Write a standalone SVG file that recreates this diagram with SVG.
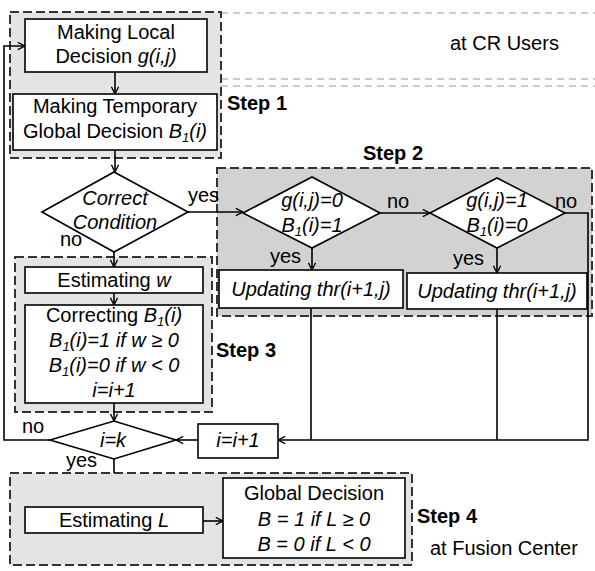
<svg xmlns="http://www.w3.org/2000/svg" width="595" height="571" viewBox="0 0 595 571">
<defs>
<marker id="arr" viewBox="0 0 10 10" refX="9" refY="5" markerWidth="9" markerHeight="9" markerUnits="userSpaceOnUse" orient="auto">
<path d="M1,1 L9,5 L1,9" fill="none" stroke="#000" stroke-width="1.5"/>
</marker>
<style>
.region{fill:#e4e4e4;stroke:#333;stroke-width:2;stroke-dasharray:9 4}
.region2{fill:#d2d2d2;stroke:#333;stroke-width:2;stroke-dasharray:9 4}
.box{fill:#fff;stroke:#000;stroke-width:1.6}
.sep{fill:none;stroke:#999;stroke-width:1;stroke-dasharray:7 5}
.conn path{fill:none;stroke:#000;stroke-width:1.6}
text{font-family:"Liberation Sans",Arial,sans-serif;font-size:20px;fill:#000}
.c{text-anchor:middle}
.i{font-style:italic}
.b{font-weight:bold}
.sub{font-size:13px}
</style>
</defs>
<rect width="595" height="571" fill="#fff"/>

<!-- separators -->
<path class="sep" d="M221,13 H595"/>
<path class="sep" d="M221,79 H595"/>
<path class="sep" d="M221,86 H595"/>

<!-- regions -->
<g id="step1-region">
<rect class="region" x="10" y="12" width="211" height="146"/>
<text class="b" x="227" y="110">Step 1</text>
</g>
<g id="step2-region">
<rect class="region2" x="217" y="168" width="375" height="148"/>
<text class="b" x="363" y="160">Step 2</text>
</g>
<g id="step3-region">
<rect class="region" x="15" y="257" width="197" height="155"/>
<text class="b" x="216" y="357">Step 3</text>
</g>
<g id="step4-region">
<rect class="region" x="10" y="473" width="402" height="92"/>
<text class="b" x="417" y="523">Step 4</text>
</g>
<text x="450" y="50">at CR Users</text>
<text x="430" y="555">at Fusion Center</text>

<!-- connectors -->
<g class="conn" id="connectors">
<path d="M50,440 H4 V46 H25" marker-end="url(#arr)"/>
<path d="M115,72 V94" marker-end="url(#arr)"/>
<path d="M115,150 V172" marker-end="url(#arr)"/>
<path d="M188,212 H243" marker-end="url(#arr)"/>
<path d="M380,213 H430" marker-end="url(#arr)"/>
<path d="M312,248 V270" marker-end="url(#arr)"/>
<path d="M497,248 V273" marker-end="url(#arr)"/>
<path d="M565,213 H588 V440 H278" marker-end="url(#arr)"/>
<path d="M311,308 V440"/>
<path d="M497,309 V440"/>
<path d="M198,440 H176" marker-end="url(#arr)"/>
<path d="M114,252 V267" marker-end="url(#arr)"/>
<path d="M114,293 V305" marker-end="url(#arr)"/>
<path d="M114,403 V421" marker-end="url(#arr)"/>
<path d="M114,459 V473"/>
<path d="M203,521 H223" marker-end="url(#arr)"/>
<text x="188" y="202">yes</text>
<text x="387" y="208">no</text>
<text x="555" y="208">no</text>
<text x="270" y="263">yes</text>
<text x="453" y="265">yes</text>
<text x="60" y="246">no</text>
<text x="22" y="433">no</text>
<text x="66" y="467">yes</text>
</g>

<!-- nodes -->
<g id="local-decision">
<rect class="box" x="25" y="19" width="182" height="53"/>
<text class="c" x="116" y="39">Making Local</text>
<text class="c" x="116" y="63">Decision <tspan class="i">g(i,j)</tspan></text>
</g>
<g id="temp-global">
<rect class="box" x="13" y="94" width="204" height="56"/>
<text class="c" x="115" y="113">Making Temporary</text>
<text class="c" x="115" y="138">Global Decision <tspan class="i">B</tspan><tspan class="i sub" dy="4">1</tspan><tspan class="i" dy="-4">(i)</tspan></text>
</g>
<g id="correct-condition">
<polygon class="box" points="42,212 114,172 188,212 114,252"/>
<text class="c i" x="115" y="205">Correct</text>
<text class="c i" x="115" y="229">Condition</text>
</g>
<g id="cond-a">
<polygon class="box" points="243,213 312,177 380,213 312,248"/>
<text class="c i" x="312" y="207">g(i,j)=0</text>
<text class="c i" x="312" y="232">B<tspan class="sub" dy="4">1</tspan><tspan dy="-4">(i)=1</tspan></text>
</g>
<g id="cond-b">
<polygon class="box" points="430,213 497,178 565,213 497,248"/>
<text class="c i" x="497" y="207">g(i,j)=1</text>
<text class="c i" x="497" y="232">B<tspan class="sub" dy="4">1</tspan><tspan dy="-4">(i)=0</tspan></text>
</g>
<g id="update-a">
<rect class="box" x="219" y="270" width="184" height="38"/>
<text class="c i" x="311" y="296">Updating thr(i+1,j)</text>
</g>
<g id="update-b">
<rect class="box" x="407" y="273" width="180" height="36"/>
<text class="c i" x="497" y="298">Updating thr(i+1,j)</text>
</g>
<g id="estimating-w">
<rect class="box" x="25" y="267" width="178" height="26"/>
<text class="c" x="114" y="287">Estimating <tspan class="i">w</tspan></text>
</g>
<g id="correcting">
<rect class="box" x="25" y="305" width="178" height="98"/>
<text class="c" x="114" y="322">Correcting <tspan class="i">B</tspan><tspan class="i sub" dy="4">1</tspan><tspan class="i" dy="-4">(i)</tspan></text>
<text class="c i" x="114" y="347">B<tspan class="sub" dy="4">1</tspan><tspan dy="-4">(i)=1 if w ≥ 0</tspan></text>
<text class="c i" x="114" y="372">B<tspan class="sub" dy="4">1</tspan><tspan dy="-4">(i)=0 if w &lt; 0</tspan></text>
<text class="c i" x="114" y="397">i=i+1</text>
</g>
<g id="i-eq-k">
<polygon class="box" points="50,440 114,421 176,440 114,459"/>
<text class="c i" x="113" y="447">i=k</text>
</g>
<g id="inc-i">
<rect class="box" x="198" y="424" width="80" height="34"/>
<text class="c i" x="238" y="447">i=i+1</text>
</g>
<g id="estimating-L">
<rect class="box" x="25" y="507" width="178" height="26"/>
<text class="c" x="114" y="527">Estimating <tspan class="i">L</tspan></text>
</g>
<g id="global-decision">
<rect class="box" x="223" y="478" width="182" height="80"/>
<text class="c" x="314" y="500">Global Decision</text>
<text class="c i" x="314" y="526">B = 1 if L ≥ 0</text>
<text class="c i" x="314" y="551">B = 0 if L &lt; 0</text>
</g>
</svg>
